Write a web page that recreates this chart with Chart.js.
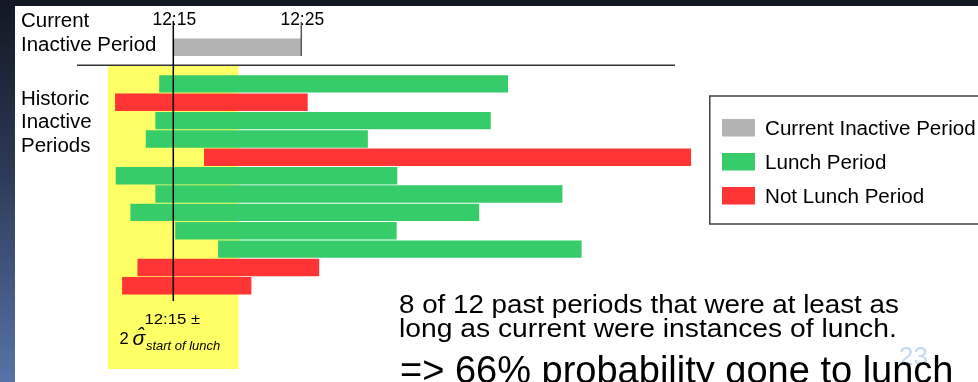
<!DOCTYPE html>
<html>
<head>
<meta charset="utf-8">
<title>Historic inactive periods</title>
<script src="https://cdn.jsdelivr.net/npm/chart.js@4.4.0/dist/chart.umd.min.js"></script>
<style>
  html, body { margin: 0; padding: 0; }
  body {
    width: 978px; height: 382px; overflow: hidden; position: relative;
    background: linear-gradient(to bottom, #121824 0%, #2c3a57 45%, #5673a8 100%);
  }
  #slide { position: absolute; left: 15px; top: 6px; right: 0; bottom: 0; background: #fff; }
  #timeline { position: absolute; left: 0; top: 0; }
</style>
</head>
<body>
<div id="slide"></div>
<canvas id="timeline" width="978" height="382"></canvas>
<script>
// All times are minutes after 12:00
const rowLabels = ['Current', '', 'H1', 'H2', 'H3', 'H4', 'H5', 'H6', 'H7', 'H8', 'H9', 'H10', 'H11', 'H12'];
const currentPeriod = [15, 25];
const histStart = [13.9, 10.45, 13.6, 12.85, 17.4, 10.5, 13.6, 11.65, 15.15, 18.5, 12.2, 11.0];
const histEnd = [41.15, 25.5, 39.8, 30.2, 55.45, 32.5, 45.4, 38.9, 32.45, 46.9, 26.4, 21.1];
const histLunch = [true, false, true, true, false, true, true, true, true, true, false, false];
const tickTimes = [15, 25];
const tickLabels = ['12:15', '12:25'];
const lunchStartMean = 15;
const lunchStartTwoSigma = 5.1;
const seriesNames = ['Current Inactive Period', 'Lunch Period', 'Not Lunch Period'];
const seriesColors = ['#b3b3b3', '#36cc6a', '#ff3535'];

const FONT = '"Liberation Sans", Arial, Helvetica, sans-serif';

const currentData = rowLabels.map((_, i) => (i === 0 ? currentPeriod : null));
function historicData(lunch) {
    return rowLabels.map((_, i) => {
        const k = i - 2;
        if (k < 0 || histLunch[k] !== lunch) return null;
        return [histStart[k], histEnd[k]];
    });
}

// text drawn with an optional horizontal stretch
function drawText(ctx, text, x, y, size, opts = {}) {
    ctx.save();
    ctx.font = (opts.italic ? 'italic ' : '') + size + 'px ' + FONT;
    ctx.fillStyle = opts.color || '#000';
    ctx.textBaseline = 'alphabetic';
    ctx.textAlign = opts.align || 'left';
    ctx.translate(x, y);
    ctx.scale(opts.stretch || 1, 1);
    ctx.fillText(text, 0, 0);
    ctx.restore();
}

// yellow band: start of lunch +/- two sigma
const lunchBand = {
    id: 'lunchBand',
    beforeDatasetsDraw(chart) {
        const { ctx, scales: { x } } = chart;
        const x0 = x.getPixelForValue(lunchStartMean - lunchStartTwoSigma);
        const x1 = x.getPixelForValue(lunchStartMean + lunchStartTwoSigma);
        ctx.save();
        ctx.fillStyle = '#ffff66';
        ctx.fillRect(x0, 66, x1 - x0, 303);
        ctx.restore();
    }
};

const annotations = {
    id: 'annotations',
    afterDatasetsDraw(chart) {
        const { ctx, scales: { x } } = chart;
        ctx.save();

        // separator between current and historic rows
        ctx.strokeStyle = '#333';
        ctx.lineWidth = 1.5;
        ctx.beginPath();
        ctx.moveTo(77, 65.25);
        ctx.lineTo(675, 65.25);
        ctx.stroke();

        // time labels at the top
        tickTimes.forEach((t, i) => {
            drawText(ctx, tickLabels[i], x.getPixelForValue(t) + 1, 25, 17.5, { align: 'center' });
        });

        // end-of-current tick
        const xEnd = x.getPixelForValue(tickTimes[1]);
        ctx.strokeStyle = '#555';
        ctx.lineWidth = 1.5;
        ctx.beginPath();
        ctx.moveTo(xEnd, 22);
        ctx.lineTo(xEnd, 56);
        ctx.stroke();

        // 12:15 reference line
        const xMean = x.getPixelForValue(lunchStartMean);
        ctx.strokeStyle = '#000';
        ctx.lineWidth = 1.5;
        ctx.beginPath();
        ctx.moveTo(xMean, 21);
        ctx.lineTo(xMean, 301);
        ctx.stroke();

        // row group captions
        const cap = { stretch: 1.05 };
        drawText(ctx, 'Current', 21, 26.7, 19.5, cap);
        drawText(ctx, 'Inactive Period', 21, 50.7, 19.5, cap);
        drawText(ctx, 'Historic', 21, 105, 19.5, cap);
        drawText(ctx, 'Inactive', 21, 128, 19.5, cap);
        drawText(ctx, 'Periods', 21, 151.5, 19.5, cap);

        // band caption: 12:15 ± 2 sigma-hat (start of lunch)
        drawText(ctx, '12:15 ±', xMean - 1, 324, 15.5, { align: 'center', stretch: 1.08 });
        drawText(ctx, '2', 119.5, 343.5, 16.5);
        drawText(ctx, 'σ', 132.5, 344.5, 21, { italic: true });
        drawText(ctx, 'ˆ', 140.5, 341.5, 20, { italic: true, align: 'center' });
        drawText(ctx, 'start of lunch', 146, 350, 12, { italic: true, stretch: 1.08 });

        // legend box
        ctx.strokeStyle = '#444';
        ctx.lineWidth = 1.5;
        ctx.strokeRect(709.75, 96, 300, 128);
        chart.data.datasets.forEach((ds, i) => {
            const cy = 128 + 34 * i;
            ctx.fillStyle = ds.backgroundColor;
            ctx.fillRect(722, cy - 9, 33, 17.5);
            drawText(ctx, ds.label, 765, cy + 7, 20, { stretch: 1.03 });
        });

        // conclusion text
        drawText(ctx, '23', 899, 365, 26, { color: '#c2d9f4' });
        drawText(ctx, '8 of 12 past periods that were at least as', 399, 313, 25, { stretch: 1.11 });
        drawText(ctx, 'long as current were instances of lunch.', 399, 337, 25, { stretch: 1.13 });
        drawText(ctx, '=> 66% probability gone to lunch', 400, 383, 38);

        ctx.restore();
    }
};

const ctx = document.getElementById('timeline').getContext('2d');
new Chart(ctx, {
    type: 'bar',
    data: {
        labels: rowLabels,
        datasets: [
            { label: seriesNames[0], data: currentData, backgroundColor: seriesColors[0] },
            { label: seriesNames[1], data: historicData(true), backgroundColor: seriesColors[1] },
            { label: seriesNames[2], data: historicData(false), backgroundColor: seriesColors[2] },
        ].map(ds => ({ ...ds, grouped: false, barPercentage: 0.95, categoryPercentage: 1, borderWidth: 0 })),
    },
    options: {
        indexAxis: 'y',
        responsive: false,
        animation: false,
        layout: { padding: { left: 45.3, right: 228.7, top: 38, bottom: 87 } },
        scales: {
            x: { type: 'linear', min: 5, max: 60, display: false },
            y: { type: 'category', display: false, offset: true },
        },
        plugins: {
            legend: { display: false },
            tooltip: { enabled: false },
        },
    },
    plugins: [lunchBand, annotations],
});
</script>
</body>
</html>
